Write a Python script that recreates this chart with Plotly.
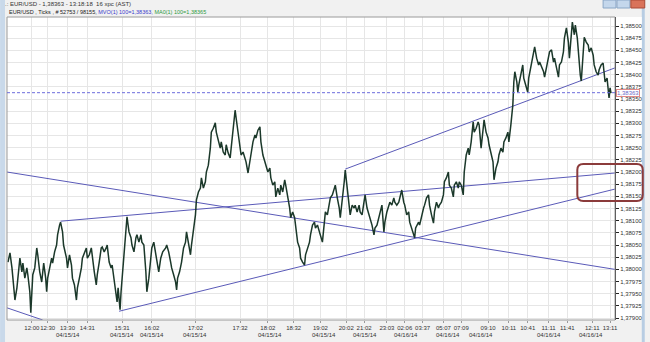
import plotly.graph_objects as go

# ---------------- data (tick number, price) ----------------
seg_apr15_morning = [
    (8, 1.38015), (10, 1.38034), (12, 1.38003), (13, 1.37982), (15, 1.37937), (17, 1.37962),
    (18, 1.37982), (20, 1.38023), (22, 1.37995), (23, 1.38013), (25, 1.37982), (27, 1.38003),
    (28, 1.37989), (30, 1.37954), (31, 1.37911), (32, 1.37954), (33, 1.37989), (35, 1.38003),
    (37, 1.38044), (38, 1.38030), (40, 1.37995), (42, 1.37974), (43, 1.37995), (44, 1.38013),
    (46, 1.37982), (47, 1.37954), (48, 1.37982), (50, 1.38003), (52, 1.38023), (53, 1.38013),
    (55, 1.38036), (57, 1.38050), (58, 1.38071), (60, 1.38091), (61, 1.38097), (63, 1.38077),
    (64, 1.38050), (67, 1.38023), (68, 1.38003), (70, 1.38030), (72, 1.38009), (73, 1.37982),
    (75, 1.37968), (77, 1.37937), (78, 1.37962), (80, 1.37982), (82, 1.38003), (83, 1.38023),
    (85, 1.38036), (87, 1.38044), (88, 1.38023), (90, 1.38030), (92, 1.38044), (93, 1.38023),
    (95, 1.37995), (97, 1.37968), (98, 1.37989), (100, 1.38015), (102, 1.38044), (103, 1.38046),
    (105, 1.38036), (107, 1.38044), (108, 1.38050), (110, 1.38015), (112, 1.38003), (113, 1.38009),
    (115, 1.37982), (117, 1.37954), (118, 1.37933), (119, 1.37962), (121, 1.37917), (122, 1.37954),
    (124, 1.38003), (126, 1.38044), (127, 1.38085), (128, 1.38108), (130, 1.38077), (132, 1.38065),
    (133, 1.38050), (135, 1.38036), (137, 1.38065), (138, 1.38071), (140, 1.38056), (142, 1.38071),
    (143, 1.38056), (145, 1.38050), (147, 1.37995), (148, 1.37954), (150, 1.37982), (152, 1.38023),
    (153, 1.38044),
]
seg_apr15_afternoon = [
    (155, 1.38056), (157, 1.38036), (158, 1.38019), (160, 1.37995), (162, 1.38023), (164, 1.38036),
    (167, 1.38044), (168, 1.38050), (170, 1.38036), (172, 1.38015), (173, 1.38003), (175, 1.37989),
    (177, 1.37974), (178, 1.37958), (179, 1.37982), (181, 1.37995), (183, 1.38015), (185, 1.38044),
    (187, 1.38056), (188, 1.38077), (190, 1.38050), (192, 1.38030), (193, 1.38050), (195, 1.38077),
    (197, 1.38112), (198, 1.38143), (200, 1.38159), (202, 1.38167), (203, 1.38188), (205, 1.38167),
    (207, 1.38180), (208, 1.38200), (210, 1.38214), (212, 1.38249), (213, 1.38282), (215, 1.38290),
    (217, 1.38301), (218, 1.38282), (220, 1.38262), (222, 1.38249), (223, 1.38262), (225, 1.38241),
    (227, 1.38235), (228, 1.38256), (230, 1.38239), (232, 1.38229), (233, 1.38249), (235, 1.38290),
    (237, 1.38327), (238, 1.38311), (240, 1.38282), (242, 1.38249), (243, 1.38235), (245, 1.38241),
    (247, 1.38229), (248, 1.38221), (250, 1.38198), (252, 1.38221), (253, 1.38235), (255, 1.38262),
    (257, 1.38276), (258, 1.38270), (260, 1.38286), (262, 1.38293), (263, 1.38262), (265, 1.38235),
    (267, 1.38221), (268, 1.38214), (270, 1.38200), (272, 1.38208), (273, 1.38188), (275, 1.38173),
    (277, 1.38180), (278, 1.38149), (280, 1.38167), (282, 1.38153), (283, 1.38173), (285, 1.38159),
    (287, 1.38184), (288, 1.38173), (290, 1.38153), (292, 1.38126), (293, 1.38106), (295, 1.38118),
    (297, 1.38106), (298, 1.38091), (300, 1.38056), (302, 1.38044), (303, 1.38023), (305, 1.38015),
    (307, 1.38009), (308, 1.38030),
]
seg_apr15_night = [
    (310, 1.38044), (312, 1.38056), (313, 1.38071), (315, 1.38091), (317, 1.38097), (318, 1.38085),
    (320, 1.38091), (322, 1.38077), (323, 1.38071), (325, 1.38056), (327, 1.38097), (328, 1.38118),
    (330, 1.38112), (332, 1.38132), (333, 1.38147), (335, 1.38153), (337, 1.38167), (338, 1.38173),
    (340, 1.38147), (342, 1.38126), (343, 1.38106), (345, 1.38138), (347, 1.38180), (348, 1.38204),
    (350, 1.38167), (352, 1.38138), (353, 1.38112), (355, 1.38132), (357, 1.38126), (358, 1.38132),
    (360, 1.38118), (362, 1.38132), (363, 1.38118), (365, 1.38112), (367, 1.38138), (368, 1.38153),
    (370, 1.38126), (372, 1.38112), (373, 1.38106), (375, 1.38091), (377, 1.38071), (378, 1.38085),
    (380, 1.38091), (382, 1.38106), (383, 1.38118), (385, 1.38132), (387, 1.38077), (388, 1.38097),
    (390, 1.38118), (392, 1.38132), (393, 1.38138), (395, 1.38132), (397, 1.38147), (398, 1.38138),
    (400, 1.38132), (402, 1.38138), (403, 1.38149), (405, 1.38163), (407, 1.38138), (408, 1.38132),
    (410, 1.38112), (412, 1.38118), (413, 1.38097), (415, 1.38085), (417, 1.38071), (418, 1.38065),
    (419, 1.38085), (422, 1.38097), (423, 1.38091), (425, 1.38112), (427, 1.38126), (428, 1.38132),
    (430, 1.38147), (432, 1.38153), (433, 1.38132), (435, 1.38112), (437, 1.38095), (438, 1.38118),
    (440, 1.38138), (442, 1.38126), (443, 1.38132), (445, 1.38138), (447, 1.38153), (448, 1.38180),
    (450, 1.38188), (452, 1.38200), (453, 1.38173), (455, 1.38167), (457, 1.38149), (458, 1.38173),
    (460, 1.38180), (462, 1.38167), (463, 1.38180),
]
seg_apr16_morning = [
    (465, 1.38173), (467, 1.38153), (468, 1.38200), (470, 1.38235), (472, 1.38249), (473, 1.38235),
    (475, 1.38262), (477, 1.38303), (478, 1.38282), (480, 1.38290), (482, 1.38303), (483, 1.38297),
    (485, 1.38249), (487, 1.38282), (488, 1.38307), (490, 1.38282), (492, 1.38270), (493, 1.38256),
    (495, 1.38235), (497, 1.38221), (498, 1.38184), (500, 1.38208), (502, 1.38221), (503, 1.38235),
    (505, 1.38249), (507, 1.38241), (508, 1.38262), (510, 1.38270), (512, 1.38282), (513, 1.38262),
    (515, 1.38297), (517, 1.38338), (518, 1.38385), (519, 1.38406), (521, 1.38385), (522, 1.38364),
    (523, 1.38379), (525, 1.38399), (527, 1.38420), (528, 1.38393), (530, 1.38379), (532, 1.38364),
    (533, 1.38393), (535, 1.38414), (537, 1.38434), (539, 1.38457), (541, 1.38434), (543, 1.38420),
    (544, 1.38426), (546, 1.38414), (548, 1.38406), (549, 1.38395), (551, 1.38414), (553, 1.38434),
    (554, 1.38447), (556, 1.38451), (558, 1.38426), (559, 1.38434), (561, 1.38414), (563, 1.38395),
    (564, 1.38420), (566, 1.38426), (568, 1.38447), (569, 1.38475), (571, 1.38496), (573, 1.38467),
    (574, 1.38434), (576, 1.38488), (577, 1.38508), (579, 1.38482), (580, 1.38502), (582, 1.38475),
    (583, 1.38447), (585, 1.38399), (586, 1.38387), (588, 1.38440), (589, 1.38477), (591, 1.38467),
    (593, 1.38461), (594, 1.38447), (596, 1.38455), (598, 1.38440), (599, 1.38420), (601, 1.38406),
    (603, 1.38399), (604, 1.38410), (606, 1.38420), (608, 1.38424), (609, 1.38399), (610, 1.38385),
    (612, 1.38393), (613, 1.38373), (614, 1.38352), (615, 1.38373), (616, 1.38362),
]
last_price = 1.38363

# trend lines drawn on the chart: (tick0, price0, tick1, price1)
trend_lines = [
    (7, 1.38200, 620, 1.38000),
    (7, 1.37921, 43, 1.37896),
    (61, 1.38099, 620, 1.38198),
    (120, 1.37914, 620, 1.38165),
    (348, 1.38206, 620, 1.38414),
]

# axis ticks
y_ticks = [1.37900 + 0.00025 * i for i in range(25)]
x_tick_pos = [32, 48, 68, 88, 123, 153, 197, 242, 270, 296, 323, 349, 367, 390, 408,
              426, 447, 465, 492, 513, 532, 553, 572, 597, 615]
x_tick_text = ["12:00", "12:30", "13:30", "14:31", "15:31", "16:02", "17:02", "17:32", "18:02",
               "18:32", "19:02", "20:02", "21:02", "23:03", "02:06", "03:37", "05:07", "07:09",
               "09:10", "10:11", "10:41", "11:11", "11:41", "12:11", "13:11"]
date_pos = [68, 123, 153, 197, 272, 327, 368, 409, 452, 485, 553, 596]
date_text = ["04/15/14"] * 7 + ["04/16/14"] * 5

# ---------------- figure ----------------
W, H = 650, 342
L, R, T, B = 7, 30, 17, 22
PW, PH = W - L - R, H - T - B


def px(xp):
    return (xp - L) / PW


def py(yp):
    return (H - B - yp) / PH


ticks, prices = [], []
for seg in (seg_apr15_morning, seg_apr15_afternoon, seg_apr15_night, seg_apr16_morning):
    for t, p in seg:
        ticks.append(t)
        prices.append(p)

fig = go.Figure()
for t0, p0, t1, p1 in trend_lines:
    fig.add_trace(go.Scatter(x=[t0, t1], y=[p0, p1], mode="lines",
                             line=dict(color="#5a5ab8", width=1), hoverinfo="skip"))
fig.add_trace(go.Scatter(x=ticks, y=prices, mode="lines",
                         line=dict(color="#1b382a", width=1.5)))

shapes = [
    # window side strips
    dict(type="rect", xref="paper", yref="paper", x0=px(0), x1=px(5), y0=py(342), y1=py(0),
         fillcolor="#c9d9ea", line=dict(width=0), layer="below"),
    dict(type="rect", xref="paper", yref="paper", x0=px(647), x1=px(650), y0=py(342), y1=py(0),
         fillcolor="#b8cde3", line=dict(width=0), layer="below"),
    # axis strip
    dict(type="rect", xref="paper", yref="paper", x0=1, x1=px(647), y0=0, y1=1,
         fillcolor="white", line=dict(width=0), layer="below"),
    # plot border
    dict(type="rect", xref="paper", yref="paper", x0=0, x1=1, y0=0, y1=1,
         line=dict(color="#9a9a9a", width=1)),
    # last-price dashed line
    dict(type="line", xref="paper", yref="y", x0=0, x1=1, y0=last_price, y1=last_price,
         line=dict(color="#6c6cdc", width=1, dash="3px,2px")),
    # window buttons
    dict(type="rect", xref="paper", yref="paper", x0=px(608), x1=px(621), y0=py(8), y1=py(0),
         fillcolor="#c4d7ec", line=dict(color="#8aa6c6", width=1)),
    dict(type="rect", xref="paper", yref="paper", x0=px(622), x1=px(635), y0=py(8), y1=py(0),
         fillcolor="#c4d7ec", line=dict(color="#8aa6c6", width=1)),
    dict(type="rect", xref="paper", yref="paper", x0=px(636), x1=px(650), y0=py(8), y1=py(0),
         fillcolor="#d9735a", line=dict(color="#a94b37", width=1)),
]

# rounded highlight box
x0, x1, yb, yt = px(582), px(648), py(201), py(164)
rx, ry = 6 / PW, 6 / PH
path = (f"M {x0+rx},{yt} L {x1-rx},{yt} Q {x1},{yt} {x1},{yt-ry} L {x1},{yb+ry} "
        f"Q {x1},{yb} {x1-rx},{yb} L {x0+rx},{yb} Q {x0},{yb} {x0},{yb+ry} "
        f"L {x0},{yt-ry} Q {x0},{yt} {x0+rx},{yt} Z")
shapes.append(dict(type="path", xref="paper", yref="paper", path=path,
                   line=dict(color="#8b3b3b", width=2)))

annotations = [
    dict(xref="paper", yref="paper", x=px(3), y=py(4), xanchor="left", yanchor="middle",
         showarrow=False, text=".: EUR/USD - 1,38363 - 13:18:18  16 xpc (AST)",
         font=dict(size=6, color="#333333")),
    dict(xref="paper", yref="paper", x=px(7), y=py(12), xanchor="left", yanchor="middle",
         showarrow=False,
         text=("EUR/USD , Ticks , # 52753 / 98155, "
               "<span style='color:#3a3acc'>MVO(1) 100=1,38363,</span> "
               "<span style='color:#2e9a3e'>MA0(1) 100=1,38365</span>"),
         font=dict(size=5.5, color="#222222")),
    dict(xref="paper", yref="y", x=px(633), y=last_price, xanchor="center", yanchor="middle",
         showarrow=False, text=f"{last_price:.5f}".replace(".", ","),
         font=dict(size=6, color="#6a6ac8"), bgcolor="white", bordercolor="#e08a8a",
         borderwidth=1, borderpad=0),
]
for xpos, txt in zip(date_pos, date_text):
    annotations.append(dict(xref="x", yref="paper", x=xpos, y=py(335), xanchor="center",
                            yanchor="middle", showarrow=False, text=txt,
                            font=dict(size=6, color="#333333")))

fig.update_layout(
    width=W, height=H, margin=dict(l=L, r=R, t=T, b=B),
    paper_bgcolor="#f1f1f1", plot_bgcolor="white", showlegend=False,
    font=dict(family="Liberation Sans, Arial, sans-serif", size=6, color="#333333"),
    shapes=shapes, annotations=annotations,
    xaxis=dict(range=[L, W - R], tickvals=x_tick_pos, ticktext=x_tick_text, tickangle=0,
               showgrid=True, gridcolor="#e6e6e6", gridwidth=1, zeroline=False,
               ticks="outside", ticklen=2, tickcolor="#999999", showline=False,
               tickfont=dict(size=6, color="#333333")),
    yaxis=dict(range=[1.378960, 1.385185], side="right", tickvals=y_ticks,
               ticktext=[f"{v:.5f}".replace(".", ",") for v in y_ticks],
               showgrid=True, gridcolor="#e6e6e6", gridwidth=1, zeroline=False,
               showline=True, linecolor="#222222", linewidth=1,
               ticks="outside", ticklen=3, tickcolor="#222222",
               tickfont=dict(size=6, color="#333333")),
)

fig.write_html("out.html")
